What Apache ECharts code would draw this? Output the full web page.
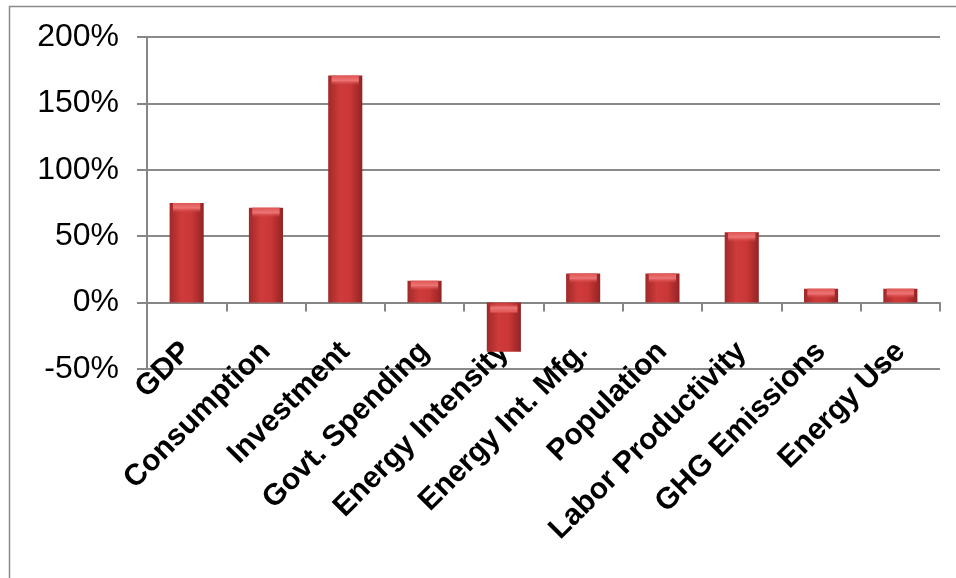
<!DOCTYPE html>
<html>
<head>
<meta charset="utf-8">
<script src="https://cdn.jsdelivr.net/npm/echarts@6/dist/echarts.min.js"></script>
<style>
  html, body { margin: 0; padding: 0; background: #fff; }
  #chart { width: 956px; height: 578px; }
</style>
</head>
<body>
<div id="chart"></div>
<script>
var categories = ['GDP', 'Consumption', 'Investment', 'Govt. Spending', 'Energy Intensity',
  'Energy Int. Mfg.', 'Population', 'Labor Productivity', 'GHG Emissions', 'Energy Use'];
// percent change
var values = [75, 71.5, 171, 16.5, -37, 22, 22, 53, 10.5, 10.5];
var yTicks = [-50, 0, 50, 100, 150, 200];

var barColor = {
  type: 'linear', x: 0, y: 0, x2: 1, y2: 0,
  colorStops: [
    { offset: 0, color: '#a02929' },
    { offset: 0.35, color: '#cf3b3b' },
    { offset: 0.65, color: '#c93737' },
    { offset: 1, color: '#932323' }
  ]
};
var capColor = {
  type: 'linear', x: 0, y: 0, x2: 0, y2: 1,
  colorStops: [
    { offset: 0, color: '#e05555' },
    { offset: 0.5, color: '#ec7474' },
    { offset: 1, color: 'rgba(214,64,64,0)' }
  ]
};

// light bevel on the top edge of every bar (bottom end for the negative one is at zero)
var capData = values.map(function (v) {
  return { value: v, symbolPosition: v < 0 ? 'start' : 'end' };
});

var chart = echarts.init(document.getElementById('chart'));
var option = {
  animation: false,
  grid: { left: 147, right: 16, top: 37, bottom: 209 },
  graphic: [{
    type: 'rect',
    shape: { x: 9.5, y: 6.5, width: 980, height: 600 },
    style: { fill: 'none', stroke: '#8c8c8c', lineWidth: 1.5 },
    silent: true
  }],
  xAxis: {
    type: 'category',
    data: categories,
    axisLine: { onZero: true, lineStyle: { color: '#868686', width: 2 } },
    axisTick: { show: true, length: 9, lineStyle: { color: '#868686', width: 2 } },
    axisLabel: {
      rotate: 45,
      margin: -22,
      interval: 0,
      fontFamily: 'Liberation Sans, Arial, sans-serif',
      fontWeight: 'bold',
      fontSize: 30,
      color: '#000'
    }
  },
  yAxis: {
    type: 'value',
    min: yTicks[0],
    max: yTicks[yTicks.length - 1],
    interval: 50,
    axisLine: { show: true, lineStyle: { color: '#868686', width: 2 } },
    axisTick: { show: true, length: 10, lineStyle: { color: '#868686', width: 2 } },
    splitLine: { lineStyle: { color: '#8a8a8a', width: 2 } },
    axisLabel: {
      margin: 28,
      fontFamily: 'Liberation Sans, Arial, sans-serif',
      fontSize: 32,
      color: '#000',
      formatter: function (v) { return v + '%'; }
    }
  },
  series: [{
    type: 'bar',
    data: values,
    barWidth: '43%',
    barGap: '-100%',
    itemStyle: { color: barColor }
  }, {
    type: 'pictorialBar',
    data: capData,
    barWidth: '43%',
    barGap: '-100%',
    symbol: 'rect',
    symbolSize: ['80%', 10],
    z: 3,
    silent: true,
    itemStyle: { color: capColor }
  }]
};
chart.setOption(option);
</script>
</body>
</html>
